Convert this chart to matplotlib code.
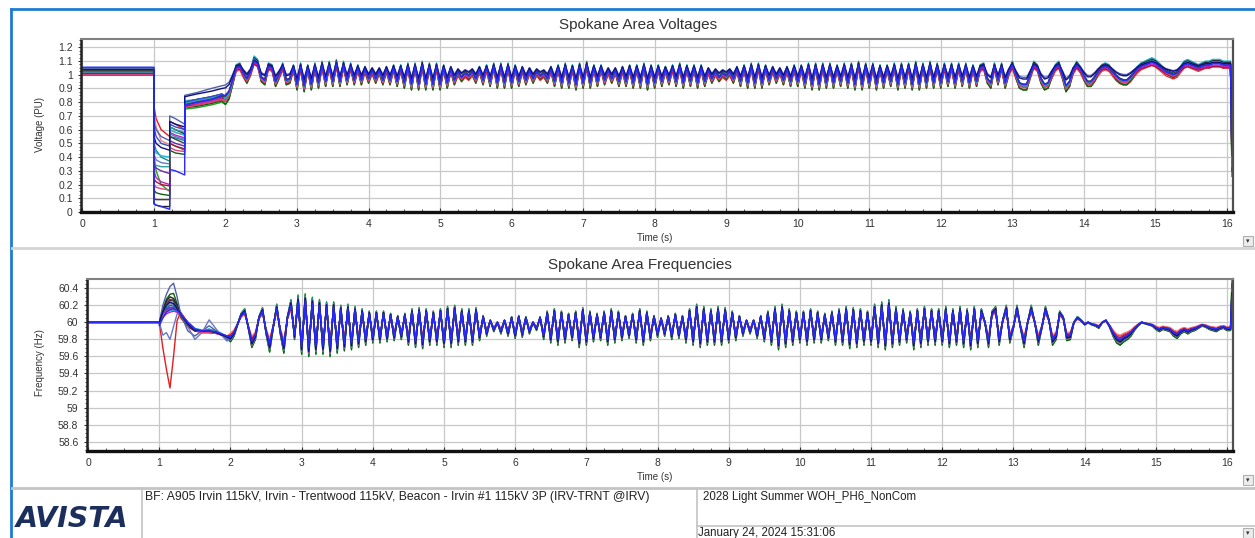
import numpy as np
import matplotlib
matplotlib.use("Agg")
import matplotlib.pyplot as plt
from matplotlib.lines import Line2D
from matplotlib.patches import Rectangle
from matplotlib.ticker import MultipleLocator, FuncFormatter

# ---------------- DATA ----------------
# dynamic simulation output, bus voltages (PU) and bus frequencies (Hz)
TRACE_COLORS = ["#e02020", "#f08080", "#20a020", "#106010", "#109090", "#20b8d8", "#c020c0",
                "#b01040", "#202020", "#5060a8", "#6a2ca0", "#6a78c8",
                "#3050d0", "#e04080", "#30a0a0", "#404040", "#101080", "#2828ff"]

# pre-fault flat levels
V_PRE = [1.0, 1.01, 1.0, 1.0, 1.02, 1.05, 1.01, 1.01, 1.03, 1.03, 1.02, 1.04,
         1.03, 1.0, 1.02, 1.03, 1.04, 1.055]

# fault-on / breaker clearing period, per bus
VF_T = [1.0, 1.03, 1.1, 1.22, 1.22, 1.3, 1.43, 1.43, 1.6, 1.8, 1.95]
VF = [
    [0.77, 0.68, 0.60, 0.55, 0.66, 0.64, 0.60, 0.77, 0.78, 0.80, 0.82],
    [0.72, 0.62, 0.52, 0.49, 0.60, 0.58, 0.56, 0.78, 0.79, 0.81, 0.83],
    [0.42, 0.30, 0.20, 0.15, 0.50, 0.48, 0.45, 0.75, 0.76, 0.78, 0.80],
    [0.16, 0.14, 0.13, 0.12, 0.45, 0.43, 0.42, 0.76, 0.77, 0.79, 0.81],
    [0.50, 0.45, 0.40, 0.37, 0.55, 0.54, 0.52, 0.78, 0.80, 0.82, 0.84],
    [0.46, 0.43, 0.41, 0.40, 0.60, 0.58, 0.56, 0.81, 0.82, 0.83, 0.84],
    [0.30, 0.25, 0.22, 0.20, 0.58, 0.56, 0.54, 0.77, 0.79, 0.81, 0.83],
    [0.24, 0.22, 0.20, 0.19, 0.50, 0.48, 0.46, 0.77, 0.78, 0.80, 0.82],
    [0.06, 0.05, 0.04, 0.04, 0.62, 0.60, 0.57, 0.80, 0.82, 0.84, 0.86],
    [0.65, 0.60, 0.55, 0.52, 0.70, 0.68, 0.64, 0.85, 0.87, 0.90, 0.92],
    [0.35, 0.32, 0.30, 0.28, 0.52, 0.50, 0.48, 0.79, 0.81, 0.83, 0.85],
    [0.42, 0.38, 0.36, 0.35, 0.57, 0.55, 0.53, 0.80, 0.82, 0.83, 0.86],
    [0.62, 0.55, 0.50, 0.48, 0.64, 0.62, 0.60, 0.80, 0.82, 0.84, 0.86],
    [0.20, 0.18, 0.17, 0.16, 0.47, 0.45, 0.44, 0.76, 0.78, 0.80, 0.82],
    [0.36, 0.34, 0.33, 0.33, 0.62, 0.60, 0.58, 0.79, 0.81, 0.83, 0.85],
    [0.10, 0.09, 0.09, 0.09, 0.55, 0.53, 0.50, 0.78, 0.80, 0.82, 0.84],
    [0.55, 0.50, 0.47, 0.45, 0.66, 0.64, 0.62, 0.84, 0.86, 0.88, 0.90],
    [0.06, 0.05, 0.04, 0.02, 0.31, 0.30, 0.27, 0.78, 0.80, 0.82, 0.85],
]

# post-fault swing (center of the bundle), sampled every 50 ms from 2.00 s to 16.05 s
V_MID = [
    0.85, 0.88, 0.96, 1.05, 1.06, 1.01, 0.97, 1.02, 1.10, 1.08, 0.98, 0.96, 1.06, 1.05, 0.95, 1.00, 1.06, 0.96, 0.97, 1.05,
    0.93, 1.06, 0.92, 1.05, 0.93, 1.06, 0.94, 1.07, 0.95, 1.07, 0.95, 1.08, 0.95, 1.07, 0.96, 1.06, 0.96, 1.05, 0.96, 1.04,
    0.97, 1.03, 0.97, 1.03, 0.96, 1.04, 0.96, 1.05, 0.95, 1.05, 0.94, 1.06, 0.93, 1.06, 0.93, 1.07, 0.93, 1.06, 0.93, 1.06,
    0.93, 1.05, 0.94, 1.04, 0.96, 1.02, 0.98, 1.01, 0.99, 1.02, 0.97, 1.04, 0.96, 1.05, 0.95, 1.06, 0.94, 1.06, 0.94, 1.06,
    0.94, 1.05, 0.95, 1.04, 0.96, 1.03, 0.97, 1.02, 0.99, 1.01, 0.97, 1.04, 0.95, 1.05, 0.94, 1.06, 0.94, 1.05, 0.93, 1.06,
    0.94, 1.07, 0.94, 1.05, 0.95, 1.05, 0.96, 1.03, 0.97, 1.03, 0.95, 1.04, 0.95, 1.05, 0.94, 1.05, 0.94, 1.06, 0.93, 1.05,
    0.94, 1.05, 0.95, 1.04, 0.96, 1.05, 0.95, 1.06, 0.94, 1.05, 0.95, 1.05, 0.94, 1.05, 0.95, 1.03, 0.97, 1.02, 0.98, 1.01,
    0.99, 1.02, 0.97, 1.04, 0.95, 1.05, 0.94, 1.06, 0.94, 1.06, 0.94, 1.05, 0.96, 1.04, 0.97, 1.03, 0.96, 1.04, 0.95, 1.05,
    0.95, 1.05, 0.94, 1.06, 0.93, 1.06, 0.93, 1.06, 0.94, 1.06, 0.94, 1.05, 0.95, 1.06, 0.94, 1.06, 0.93, 1.07, 0.93, 1.06,
    0.94, 1.06, 0.93, 1.05, 0.94, 1.05, 0.95, 1.06, 0.93, 1.06, 0.94, 1.06, 0.93, 1.07, 0.93, 1.06, 0.94, 1.07, 0.94, 1.06,
    0.94, 1.06, 0.95, 1.06, 0.94, 1.06, 0.95, 1.06, 0.94, 1.05, 0.95, 1.05, 1.06, 0.97, 0.94, 1.06, 0.96, 1.06, 0.94, 1.02,
    1.07, 1.00, 0.94, 0.93, 0.93, 1.00, 1.07, 1.05, 0.97, 0.93, 0.94, 1.00, 1.05, 1.07, 1.00, 0.92, 0.95, 1.03, 1.07, 1.04,
    0.99, 0.95, 0.95, 0.98, 1.02, 1.05, 1.06, 1.05, 1.02, 0.99, 0.97, 0.96, 0.96, 0.98, 1.01, 1.04, 1.06, 1.07, 1.08, 1.09,
    1.08, 1.06, 1.04, 1.02, 1.01, 1.00, 1.01, 1.04, 1.07, 1.08, 1.07, 1.06, 1.05, 1.06, 1.07, 1.07, 1.08, 1.08, 1.08, 1.07,
    1.07, 1.07,
]
V_GAIN = [0.1, 0.0, 0.35, 0.3, 0.2, 0.25, 0.0, -0.1, 0.15, -0.3, 0.05, 0.1,
          0.1, 0.2, 0.15, 0.05, -0.2, 0.0]
V_OFF = [-0.03, -0.02, -0.015, -0.02, -0.005, 0.012, -0.01, -0.012, 0.01, 0.03, 0.0, 0.005,
         0.0, -0.01, 0.0, 0.005, 0.025, 0.0]
V_END = [0.42, 0.45, 0.26, 0.30, 0.35, 0.40, 0.38, 0.40, 0.36, 0.50, 0.42, 0.45,
         0.44, 0.33, 0.39, 0.41, 0.48, 0.45]

FF_T = [1.0, 1.05, 1.1, 1.15, 1.2, 1.25, 1.3, 1.4, 1.5, 1.6, 1.7, 1.8, 1.95]
FF = [
    [60.0, 59.70, 59.45, 59.23, 59.60, 60.02, 60.12, 60.00, 59.92, 59.89, 59.88, 59.88, 59.84],
    [60.0, 60.10, 60.18, 60.22, 60.20, 60.12, 60.05, 59.95, 59.90, 59.88, 59.88, 59.87, 59.83],
    [60.0, 60.08, 60.14, 60.17, 60.16, 60.14, 60.10, 60.00, 59.92, 59.90, 59.90, 59.88, 59.82],
    [60.0, 60.15, 60.27, 60.33, 60.34, 60.22, 60.10, 59.96, 59.90, 59.90, 59.91, 59.88, 59.82],
    [60.0, 60.10, 60.16, 60.18, 60.17, 60.14, 60.10, 60.00, 59.93, 59.90, 59.92, 59.90, 59.83],
    [60.0, 60.07, 60.12, 60.14, 60.14, 60.13, 60.10, 60.00, 59.93, 59.91, 59.92, 59.90, 59.84],
    [60.0, 60.06, 60.10, 60.12, 60.13, 60.12, 60.08, 59.98, 59.92, 59.90, 59.90, 59.88, 59.84],
    [60.0, 60.12, 60.22, 60.27, 60.26, 60.16, 60.06, 59.95, 59.90, 59.88, 59.88, 59.87, 59.84],
    [60.0, 60.14, 60.25, 60.30, 60.28, 60.20, 60.10, 59.97, 59.90, 59.90, 59.91, 59.88, 59.83],
    [60.0, 60.20, 60.33, 60.42, 60.46, 60.30, 60.10, 59.90, 59.84, 59.90, 59.96, 59.90, 59.80],
    [60.0, 60.09, 60.15, 60.17, 60.17, 60.15, 60.10, 60.00, 59.92, 59.90, 59.90, 59.88, 59.83],
    [60.0, 59.85, 59.88, 59.80, 59.95, 60.10, 60.12, 59.95, 59.80, 59.88, 60.03, 59.92, 59.78],
    [60.0, 60.10, 60.17, 60.20, 60.19, 60.15, 60.10, 60.00, 59.92, 59.90, 59.90, 59.88, 59.83],
    [60.0, 60.08, 60.13, 60.16, 60.16, 60.14, 60.10, 60.00, 59.91, 59.88, 59.88, 59.87, 59.83],
    [60.0, 60.11, 60.19, 60.23, 60.21, 60.15, 60.08, 59.98, 59.92, 59.90, 59.91, 59.89, 59.83],
    [60.0, 60.13, 60.22, 60.26, 60.25, 60.18, 60.09, 59.97, 59.91, 59.90, 59.90, 59.88, 59.83],
    [60.0, 60.12, 60.20, 60.24, 60.22, 60.16, 60.10, 59.98, 59.91, 59.90, 59.90, 59.88, 59.83],
    [59.96, 60.05, 60.12, 60.15, 60.16, 60.14, 60.10, 60.00, 59.92, 59.90, 59.90, 59.89, 59.84],
]

F_MID = [
    59.83, 59.88, 59.98, 60.08, 60.12, 59.95, 59.78, 59.85, 60.05, 60.13, 59.90, 59.74, 59.95, 60.16, 59.90, 59.73, 60.05, 60.20, 59.85, 60.24,
    59.72, 60.25, 59.70, 60.22, 59.72, 60.20, 59.72, 60.18, 59.70, 60.18, 59.73, 60.15, 59.75, 60.16, 59.76, 60.14, 59.78, 60.12, 59.80, 60.10,
    59.82, 60.10, 59.82, 60.10, 59.83, 60.08, 59.84, 60.06, 59.85, 60.08, 59.80, 60.12, 59.78, 60.13, 59.77, 60.12, 59.80, 60.10, 59.80, 60.12,
    59.78, 60.14, 59.78, 60.15, 59.80, 60.12, 59.80, 60.12, 59.80, 60.13, 59.84, 60.06, 59.88, 60.02, 59.92, 60.00, 59.90, 60.02, 59.88, 60.05,
    59.86, 60.06, 59.87, 60.05, 59.90, 60.00, 59.93, 60.05, 59.85, 60.10, 59.82, 60.12, 59.80, 60.10, 59.82, 60.08, 59.84, 60.10, 59.78, 60.13,
    59.80, 60.10, 59.83, 60.08, 59.84, 60.10, 59.80, 60.12, 59.82, 60.10, 59.84, 60.06, 59.86, 60.08, 59.82, 60.12, 59.80, 60.10, 59.84, 60.06,
    59.87, 60.04, 59.88, 60.06, 59.85, 60.08, 59.86, 60.06, 59.82, 60.12, 59.80, 60.16, 59.78, 60.14, 59.80, 60.12, 59.80, 60.14, 59.80, 60.13,
    59.82, 60.10, 59.84, 60.06, 59.88, 60.02, 59.90, 60.02, 59.86, 60.06, 59.83, 60.10, 59.80, 60.14, 59.76, 60.16, 59.78, 60.12, 59.80, 60.10,
    59.82, 60.10, 59.80, 60.12, 59.82, 60.10, 59.82, 60.08, 59.84, 60.10, 59.80, 60.12, 59.80, 60.14, 59.77, 60.13, 59.78, 60.12, 59.80, 60.10,
    59.80, 60.16, 59.78, 60.18, 59.76, 60.20, 59.78, 60.14, 59.80, 60.12, 59.82, 60.10, 59.76, 60.12, 59.78, 60.14, 59.80, 60.12, 59.80, 60.12,
    59.80, 60.14, 59.78, 60.12, 59.80, 60.14, 59.78, 60.12, 59.76, 60.14, 59.78, 60.12, 60.00, 59.78, 60.10, 60.14, 59.80, 60.02, 60.15, 59.82,
    59.95, 60.15, 59.95, 59.78, 60.00, 60.15, 60.00, 59.80, 59.95, 60.14, 60.02, 59.80, 59.85, 60.10, 60.05, 59.84, 59.85, 60.00, 60.05, 60.02,
    59.98, 60.00, 59.98, 59.97, 59.95, 60.00, 60.02, 59.96, 59.88, 59.82, 59.80, 59.83, 59.85, 59.88, 59.93, 59.97, 60.00, 59.99, 59.98, 59.97,
    59.94, 59.92, 59.94, 59.93, 59.92, 59.88, 59.86, 59.90, 59.92, 59.90, 59.92, 59.93, 59.95, 59.97, 59.96, 59.94, 59.93, 59.92, 59.94, 59.95,
    59.93, 59.93,
]
F_GAIN = [-0.2, -0.25, 0.35, 0.3, 0.25, 0.2, 0.0, -0.1, 0.1, 0.15, 0.05, 0.1,
          0.05, 0.2, 0.15, 0.1, 0.15, 0.0]
F_OFF = [0.0, 0.0, 0.0, -0.005, 0.005, 0.0, 0.0, 0.0, 0.0, 0.0, 0.0, 0.0,
         0.0, 0.0, 0.0, 0.0, 0.0, 0.0]
F_END = [60.10, 60.15, 60.50, 60.45, 60.35, 60.30, 60.25, 60.20, 60.35, 60.40, 60.30, 60.30,
         60.30, 60.35, 60.32, 60.30, 60.35, 60.30]

T_POST = np.round(np.arange(2.0, 16.051, 0.05), 2)
T_TRIP = 16.07

CASE_TEXT = "BF: A905 Irvin 115kV, Irvin - Trentwood 115kV, Beacon - Irvin #1 115kV 3P (IRV-TRNT @IRV)"
BASE_CASE = "2028 Light Summer WOH_PH6_NonCom"
RUN_STAMP = "January 24, 2024 15:31:06"

assert len(V_MID) == len(T_POST) == len(F_MID)

W, H = 1255, 538
FONT = "Liberation Sans"


def px(x, y):
    """pixel position (from top-left) -> figure fraction"""
    return x / W, 1 - y / H


def fig_line(fig, x0, y0, x1, y1, color, lw):
    a, b = px(x0, y0)
    c, d = px(x1, y1)
    fig.add_artist(Line2D([a, c], [b, d], color=color, lw=lw, transform=fig.transFigure))


def build_trace(pre, fault_t, fault_v, mid, gain, off, base, end):
    mid = np.asarray(mid)
    post = mid + gain * (mid - base) + off
    t = np.concatenate([[0.0, fault_t[0]], fault_t, T_POST, [T_TRIP]])
    v = np.concatenate([[pre, pre], fault_v, post, [end]])
    return t, v


def style_axes(ax, ylim, ymajor, yminor):
    ax.set_xlim(-0.02, 16.085)
    ax.set_ylim(*ylim)
    ax.xaxis.set_major_locator(MultipleLocator(1))
    ax.xaxis.set_minor_locator(MultipleLocator(0.25))
    ax.yaxis.set_major_locator(MultipleLocator(ymajor))
    ax.yaxis.set_minor_locator(MultipleLocator(yminor))
    ax.yaxis.set_major_formatter(FuncFormatter(lambda v, _: f"{round(v, 2):g}"))
    ax.grid(True, which="major", color="#c8c8c8", lw=0.9)
    ax.set_axisbelow(True)
    ax.tick_params(axis="x", which="major", direction="in", length=3, pad=5,
                   labelsize=7.5, labelcolor="#333333", color="#333333")
    ax.tick_params(axis="x", which="minor", direction="in", length=2.5, color="#333333")
    ax.tick_params(axis="y", which="major", direction="out", length=2, pad=4,
                   labelsize=7.5, labelcolor="#333333", color="#333333")
    ax.tick_params(axis="y", which="minor", direction="out", length=1.5, color="#333333")
    for lab in ax.get_xticklabels() + ax.get_yticklabels():
        lab.set_family(FONT)
    ax.spines["bottom"].set_linewidth(2.4)
    ax.spines["bottom"].set_color("#111111")
    ax.spines["left"].set_linewidth(1.8)
    ax.spines["left"].set_color("#222222")
    ax.spines["top"].set_linewidth(1.5)
    ax.spines["top"].set_color("#808080")
    ax.spines["right"].set_linewidth(1.6)
    ax.spines["right"].set_color("#505050")


def scroll_button(fig, x, y):
    a, b = px(x, y + 10)
    fig.add_artist(Rectangle((a, b), 10 / W, 10 / H, transform=fig.transFigure,
                             facecolor="#ececec", edgecolor="#b0b0b0", lw=0.8))
    cx, cy = px(x + 5, y + 5.5)
    fig.text(cx, cy, "\u25BE", ha="center", va="center", fontsize=5, color="#333333")


fig = plt.figure(figsize=(W / 100, H / 100), dpi=100)
fig.patch.set_facecolor("white")

# ---- voltages ----
l, b = px(81, 212)
ax_v = fig.add_axes([l, b, (1233 - 81) / W, (212 - 39.5) / H])
for i, col in enumerate(TRACE_COLORS):
    t, v = build_trace(V_PRE[i], VF_T, VF[i], V_MID, V_GAIN[i], V_OFF[i], 1.0, V_END[i])
    ax_v.plot(t, v, color=col, lw=1.0)
style_axes(ax_v, (0, 1.257), 0.1, 0.025)

# ---- frequencies ----
l, b = px(86.7, 450.7)
ax_f = fig.add_axes([l, b, (1233 - 86.7) / W, (450.7 - 279) / H])
for i, col in enumerate(TRACE_COLORS):
    t, f = build_trace(60.0, FF_T, FF[i], F_MID, F_GAIN[i], F_OFF[i], 60.0, F_END[i])
    ax_f.plot(t, f, color=col, lw=1.0)
style_axes(ax_f, (58.494, 60.509), 0.2, 0.05)

# ---- titles and axis labels ----
fig.text(*px(638, 25), "Spokane Area Voltages", ha="center", va="center",
         fontsize=11, color="#333333", family=FONT)
fig.text(*px(640, 265), "Spokane Area Frequencies", ha="center", va="center",
         fontsize=11, color="#333333", family=FONT)
fig.text(*px(655, 238), "Time (s)", ha="center", va="center", fontsize=7, color="#333333", family=FONT)
fig.text(*px(655, 477), "Time (s)", ha="center", va="center", fontsize=7, color="#333333", family=FONT)
fig.text(*px(40, 125), "Voltage (PU)", ha="center", va="center", rotation=90,
         fontsize=7, color="#333333", family=FONT)
fig.text(*px(40, 363), "Frequency (Hz)", ha="center", va="center", rotation=90,
         fontsize=7, color="#333333", family=FONT)

# ---- window chrome ----
fig_line(fig, 11, 9, W, 9, "#1f7ad0", 2.0)
fig_line(fig, 11, 9, 11, H, "#1f7ad0", 2.0)
fig_line(fig, 12, 247.5, W, 247.5, "#d4d4d4", 2.0)
fig_line(fig, 12, 487.5, W, 487.5, "#c4c4c4", 2.0)
fig_line(fig, 142, 488, 142, H, "#c4c4c4", 1.2)
fig_line(fig, 697, 488, 697, H, "#c4c4c4", 1.2)
fig_line(fig, 697, 525.5, W, 525.5, "#c4c4c4", 1.2)
scroll_button(fig, 1243, 236)
scroll_button(fig, 1243, 475)
scroll_button(fig, 1243, 528)

# ---- info bar ----
fig.text(*px(145, 497), CASE_TEXT, ha="left", va="center", fontsize=8.8, color="#222222", family=FONT)
fig.text(*px(703, 497), BASE_CASE, ha="left", va="center", fontsize=8.3, color="#222222", family=FONT)
fig.text(*px(698, 533), RUN_STAMP, ha="left", va="center", fontsize=8.3, color="#222222", family=FONT)
fig.text(*px(16, 519), "AVISTA", ha="left", va="center", fontsize=20.5, fontweight="bold",
         fontstyle="italic", color="#1c2f5c", family="DejaVu Sans")
for yy in (510, 514, 518, 522):
    fig_line(fig, 17, yy, 38, yy, "white", 0.8)

fig.savefig("out.png", dpi=100, facecolor="white")
